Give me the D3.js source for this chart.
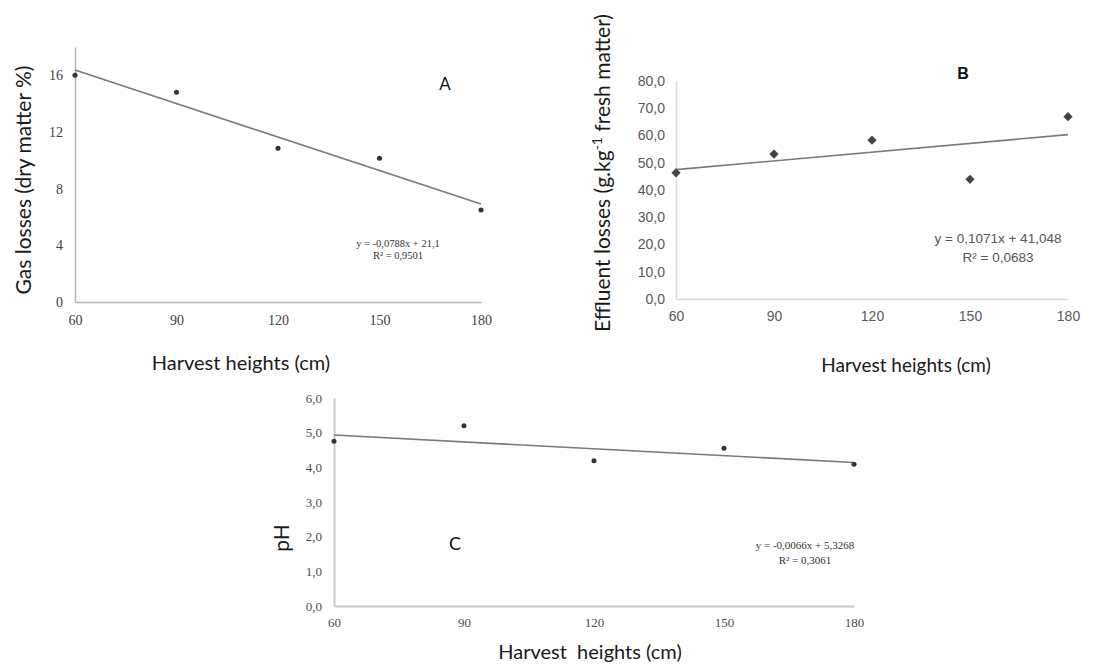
<!DOCTYPE html>
<html>
<head>
<meta charset="utf-8">
<script src="https://cdn.jsdelivr.net/npm/d3@7"></script>
<style>
  html, body { margin: 0; padding: 0; background: #fff; }
  svg { display: block; }
</style>
</head>
<body>
<svg id="chart" width="1105" height="666"></svg>
<script>
// ---------------- DATA ----------------
const heights = [60, 90, 120, 150, 180];
const xTicks = [60, 90, 120, 150, 180];

const gasLosses = [16.0, 14.8, 10.85, 10.15, 6.5];
const gasTicks = [0, 4, 8, 12, 16];
const gasTrend = [-0.0788, 21.1];          // slope, intercept
const gasEquation = ["y = -0,0788x + 21,1", "R² = 0,9501"];

const effluentLosses = [46.3, 53.2, 58.3, 43.9, 66.9];
const effluentTicks = [0, 10, 20, 30, 40, 50, 60, 70, 80];
const effluentTrend = [0.1071, 41.048];
const effluentEquation = ["y = 0,1071x + 41,048", "R² = 0,0683"];

const phValues = [4.75, 5.2, 4.19, 4.55, 4.09];
const phTicks = [0, 1, 2, 3, 4, 5, 6];
const phTrend = [-0.0066, 5.3268];
const phEquation = ["y = -0,0066x + 5,3268", "R² = 0,3061"];

// ---------------- DRAW ----------------
const svg = d3.select("#chart");
const comma1 = v => d3.format(".1f")(v).replace(".", ",");

function panel(cfg) {
  const g = svg.append("g");
  const x = d3.scaleLinear().domain([60, 180]).range([cfg.x0, cfg.x1]);
  const y = d3.scaleLinear().domain(cfg.yDomain).range([cfg.y0, cfg.y1]);

  // axes (no tick marks)
  const yAxis = g.append("g").attr("transform", `translate(${cfg.x0},0)`)
    .call(d3.axisLeft(y).tickValues(cfg.yTicks).tickSize(0).tickPadding(cfg.yPad).tickFormat(cfg.yFmt));
  const xAxis = g.append("g").attr("transform", `translate(0,${cfg.y0})`)
    .call(d3.axisBottom(x).tickValues(xTicks).tickSize(0).tickPadding(cfg.xPad).tickFormat(d3.format("d")));
  [yAxis, xAxis].forEach(a => {
    a.select(".domain").attr("stroke", cfg.axisColor).attr("stroke-width", cfg.axisWidth);
    a.selectAll("text").attr("font-family", cfg.tickFont).attr("font-size", cfg.tickSize)
      .attr("fill", cfg.tickColor).attr("font-weight", cfg.tickWeight || "normal");
  });

  // trend line
  const trend = xTicks.filter((d, i) => i === 0 || i === xTicks.length - 1)
    .map(h => [h, cfg.trend[0] * h + cfg.trend[1]]);
  g.append("path").datum(trend)
    .attr("d", d3.line().x(d => x(d[0])).y(d => y(d[1])))
    .attr("fill", "none").attr("stroke", "#7a7a7a").attr("stroke-width", 1.6);

  // points
  const sym = d3.symbol().type(cfg.marker).size(cfg.markerSize);
  g.selectAll("path.pt").data(heights.map((h, i) => [h, cfg.values[i]])).enter()
    .append("path").attr("class", "pt")
    .attr("d", sym)
    .attr("transform", d => `translate(${x(d[0])},${y(d[1])})`)
    .attr("fill", cfg.markerColor);

  // equation
  const eq = g.append("text").attr("text-anchor", "middle")
    .attr("font-family", cfg.eqFont).attr("font-size", cfg.eqSize).attr("fill", cfg.eqColor);
  cfg.equation.forEach((line, i) => {
    eq.append("tspan").attr("x", cfg.eqX).attr("y", cfg.eqY + i * cfg.eqLine).text(line);
  });

  // panel letter
  g.append("text").attr("x", cfg.letterX).attr("y", cfg.letterY).attr("text-anchor", "middle")
    .attr("font-family", cfg.letterFont).attr("font-size", cfg.letterSize)
    .attr("font-weight", cfg.letterWeight).attr("fill", "#111").text(cfg.letter);

  // x title
  g.append("text").attr("x", cfg.xtX).attr("y", cfg.xtY).attr("text-anchor", "middle")
    .attr("font-family", "Lato, 'Open Sans', sans-serif").attr("font-size", cfg.xtSize)
    .attr("fill", "#1a1a1a").attr("xml:space", "preserve").text(cfg.xTitle);

  // y title
  const yt = g.append("text")
    .attr("transform", `translate(${cfg.ytX},${cfg.ytY}) rotate(-90)`)
    .attr("text-anchor", "middle")
    .attr("font-family", "Lato, 'Open Sans', sans-serif").attr("font-size", cfg.ytSize)
    .attr("fill", "#1a1a1a");
  cfg.yTitle(yt);
}

// Panel A
panel({
  x0: 75, x1: 481, y0: 302, y1: 47, yDomain: [0, 18], yTicks: gasTicks,
  yFmt: d3.format("d"), yPad: 12, xPad: 13,
  axisColor: "#b3b3b3", axisWidth: 1.5,
  tickFont: "'Liberation Serif', 'DejaVu Serif', serif", tickSize: 14, tickColor: "#404040",
  trend: gasTrend, values: gasLosses, marker: d3.symbolCircle, markerSize: 20, markerColor: "#333",
  equation: gasEquation, eqX: 398, eqY: 247, eqLine: 12,
  eqFont: "'Liberation Serif', serif", eqSize: 10.5, eqColor: "#333",
  letter: "A", letterX: 445, letterY: 90, letterFont: "Lato, sans-serif", letterSize: 17, letterWeight: "normal",
  xTitle: "Harvest heights (cm)", xtX: 241, xtY: 370, xtSize: 20,
  ytX: 31, ytY: 180, ytSize: 21,
  yTitle: t => t.text("Gas losses (dry matter %)")
});

// Panel B
panel({
  x0: 676, x1: 1068, y0: 299, y1: 81, yDomain: [0, 80], yTicks: effluentTicks,
  yFmt: comma1, yPad: 11, xPad: 12,
  axisColor: "#dadada", axisWidth: 1.5,
  tickFont: "'Liberation Sans', Arial, sans-serif", tickSize: 14, tickColor: "#595959",
  trend: effluentTrend, values: effluentLosses, marker: d3.symbolDiamond2, markerSize: 55, markerColor: "#444",
  equation: effluentEquation, eqX: 998, eqY: 243, eqLine: 19,
  eqFont: "'Liberation Sans', Arial, sans-serif", eqSize: 13.5, eqColor: "#555",
  letter: "B", letterX: 963, letterY: 79, letterFont: "'Liberation Sans', Arial, sans-serif", letterSize: 16, letterWeight: "bold",
  xTitle: "Harvest heights (cm)", xtX: 906, xtY: 372, xtSize: 19,
  ytX: 610, ytY: 173, ytSize: 21,
  yTitle: t => {
    t.append("tspan").text("Effluent losses (g.kg");
    t.append("tspan").attr("dy", -8).attr("font-size", 14).text("-1");
    t.append("tspan").attr("dy", 8).text(" fresh matter)");
  }
});

// Panel C
panel({
  x0: 334, x1: 854, y0: 606, y1: 398, yDomain: [0, 6], yTicks: phTicks,
  yFmt: comma1, yPad: 12, xPad: 12,
  axisColor: "#c8c8c8", axisWidth: 2,
  tickFont: "'Liberation Serif', 'DejaVu Serif', serif", tickSize: 13, tickColor: "#4d4d4d",
  trend: phTrend, values: phValues, marker: d3.symbolCircle, markerSize: 20, markerColor: "#333",
  equation: phEquation, eqX: 805, eqY: 549, eqLine: 15,
  eqFont: "'Liberation Serif', serif", eqSize: 11, eqColor: "#333",
  letter: "C", letterX: 455, letterY: 550, letterFont: "Lato, sans-serif", letterSize: 18, letterWeight: "normal",
  xTitle: "Harvest  heights (cm)", xtX: 590, xtY: 659, xtSize: 20,
  ytX: 289, ytY: 538, ytSize: 21,
  yTitle: t => t.text("pH")
});
</script>
</body>
</html>
